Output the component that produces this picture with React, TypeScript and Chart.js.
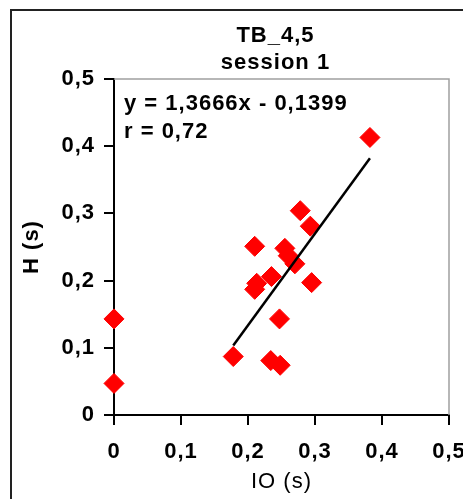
import React, { useEffect, useRef } from 'react';
import { Chart, registerables } from 'chart.js';

Chart.register(...registerables);

const FONT = '"Liberation Sans", Arial, sans-serif';

const X_VALUES = [0, 0, 0.178, 0.234, 0.248, 0.247, 0.21, 0.213, 0.235, 0.295, 0.27, 0.26, 0.255, 0.21, 0.293, 0.278, 0.382];
const Y_VALUES = [0.143, 0.047, 0.087, 0.081, 0.074, 0.143, 0.187, 0.196, 0.206, 0.197, 0.225, 0.237, 0.248, 0.251, 0.281, 0.304, 0.413];

const X_TICK_VALUES = [0, 0.1, 0.2, 0.3, 0.4, 0.5];
const X_TICK_LABELS = ['0', '0,1', '0,2', '0,3', '0,4', '0,5'];
const Y_TICK_VALUES = [0, 0.1, 0.2, 0.3, 0.4, 0.5];
const Y_TICK_LABELS = ['0', '0,1', '0,2', '0,3', '0,4', '0,5'];

const TITLE_LINES = ['TB_4,5', 'session 1'];
const EQUATION_LINES = ['y = 1,3666x - 0,1399', 'r = 0,72'];
const TREND_SLOPE = 1.3666;
const TREND_INTERCEPT = -0.1399;
const X_TITLE = 'IO (s)';
const Y_TITLE = 'H (s)';

export default function App() {
  const ref = useRef<HTMLCanvasElement>(null);

  useEffect(() => {
    const points = X_VALUES.map((x, i) => ({ x, y: Y_VALUES[i] }));
    const fitX = X_VALUES.filter((x) => x > 0);
    const tx0 = Math.min(...fitX);
    const tx1 = Math.max(...fitX);
    const trend = [
      { x: tx0, y: TREND_SLOPE * tx0 + TREND_INTERCEPT },
      { x: tx1, y: TREND_SLOPE * tx1 + TREND_INTERCEPT },
    ];

    const decor = {
      id: 'decor',
      beforeDraw(chart: any) {
        const ctx = chart.ctx;
        ctx.save();
        ctx.fillStyle = '#fff';
        ctx.fillRect(0, 0, chart.width, chart.height);
        ctx.restore();
        ctx.letterSpacing = '1px';
      },
      beforeDatasetsDraw(chart: any) {
        const { ctx, chartArea: a } = chart;
        ctx.save();
        ctx.strokeStyle = '#a0a0a0';
        ctx.lineWidth = 1.5;
        ctx.beginPath();
        ctx.moveTo(a.left, a.top);
        ctx.lineTo(a.right, a.top);
        ctx.lineTo(a.right, a.bottom);
        ctx.stroke();
        ctx.restore();
      },
      afterDraw(chart: any) {
        const { ctx, chartArea: a } = chart;
        ctx.save();
        ctx.strokeStyle = '#222';
        ctx.lineWidth = 2;
        ctx.strokeRect(11, 10, chart.width + 20, chart.height + 20);
        ctx.fillStyle = '#000';
        ctx.letterSpacing = '1px';
        ctx.font = `bold 22px ${FONT}`;
        ctx.textAlign = 'center';
        ctx.textBaseline = 'middle';
        TITLE_LINES.forEach((t, i) => ctx.fillText(t, 275.5, 36 + i * 27));
        ctx.textAlign = 'left';
        EQUATION_LINES.forEach((t, i) => ctx.fillText(t, a.left + 10, 104 + i * 27.5));
        ctx.restore();
      },
    };

    const chart = new Chart(ref.current!, {
      type: 'scatter',
      data: {
        datasets: [
          {
            data: trend,
            showLine: true,
            borderColor: '#000',
            borderWidth: 2.5,
            pointRadius: 0,
            fill: false,
            clip: false,
          } as any,
          {
            data: points,
            pointStyle: 'rectRot',
            pointRadius: 10,
            pointHoverRadius: 10,
            backgroundColor: '#ff0000',
            borderColor: '#ff0000',
            borderWidth: 1,
            clip: false,
          } as any,
        ],
      },
      options: {
        responsive: false,
        animation: false,
        events: [],
        layout: { padding: { left: 0, top: 79, right: 14, bottom: 0 } },
        plugins: { legend: { display: false }, tooltip: { enabled: false }, title: { display: false } },
        scales: {
          x: {
            type: 'linear',
            position: 'bottom',
            min: 0,
            max: 0.5,
            afterBuildTicks: (s: any) => {
              s.ticks = X_TICK_VALUES.map((v) => ({ value: v }));
            },
            afterFit: (s: any) => {
              s.height = 84;
              s.paddingLeft = 0;
              s.paddingRight = 0;
            },
            grid: { drawOnChartArea: false, drawTicks: true, tickLength: 10, color: '#000', lineWidth: 2 },
            border: { display: true, color: '#000', width: 2 },
            ticks: {
              font: { family: FONT, size: 22, weight: 'bold' },
              color: '#000',
              padding: 14,
              maxRotation: 0,
              autoSkip: false,
              callback: (_v: any, i: number) => X_TICK_LABELS[i],
            },
            title: {
              display: true,
              text: X_TITLE,
              font: { family: FONT, size: 22, weight: 'normal' },
              color: '#000',
              padding: { top: 0, bottom: 4 },
            },
          },
          y: {
            type: 'linear',
            min: 0,
            max: 0.5,
            afterBuildTicks: (s: any) => {
              s.ticks = Y_TICK_VALUES.map((v) => ({ value: v }));
            },
            afterFit: (s: any) => {
              s.width = 114;
              s.paddingTop = 0;
              s.paddingBottom = 0;
            },
            grid: { drawOnChartArea: false, drawTicks: true, tickLength: 10, color: '#000', lineWidth: 2 },
            border: { display: true, color: '#000', width: 2 },
            ticks: {
              font: { family: FONT, size: 22, weight: 'bold' },
              color: '#000',
              padding: 9,
              autoSkip: false,
              callback: (_v: any, i: number) => Y_TICK_LABELS[i],
            },
            title: {
              display: true,
              text: Y_TITLE,
              font: { family: FONT, size: 22, weight: 'bold' },
              color: '#000',
              padding: { top: 18.5, bottom: 0 },
            },
          },
        },
      } as any,
      plugins: [decor],
    });
    return () => chart.destroy();
  }, []);

  return (
    <div style={{ position: 'absolute', left: 0, top: 0, width: 463, height: 499, background: '#fff' }}>
      <canvas ref={ref} width={463} height={499} style={{ display: 'block' }} />
    </div>
  );
}
